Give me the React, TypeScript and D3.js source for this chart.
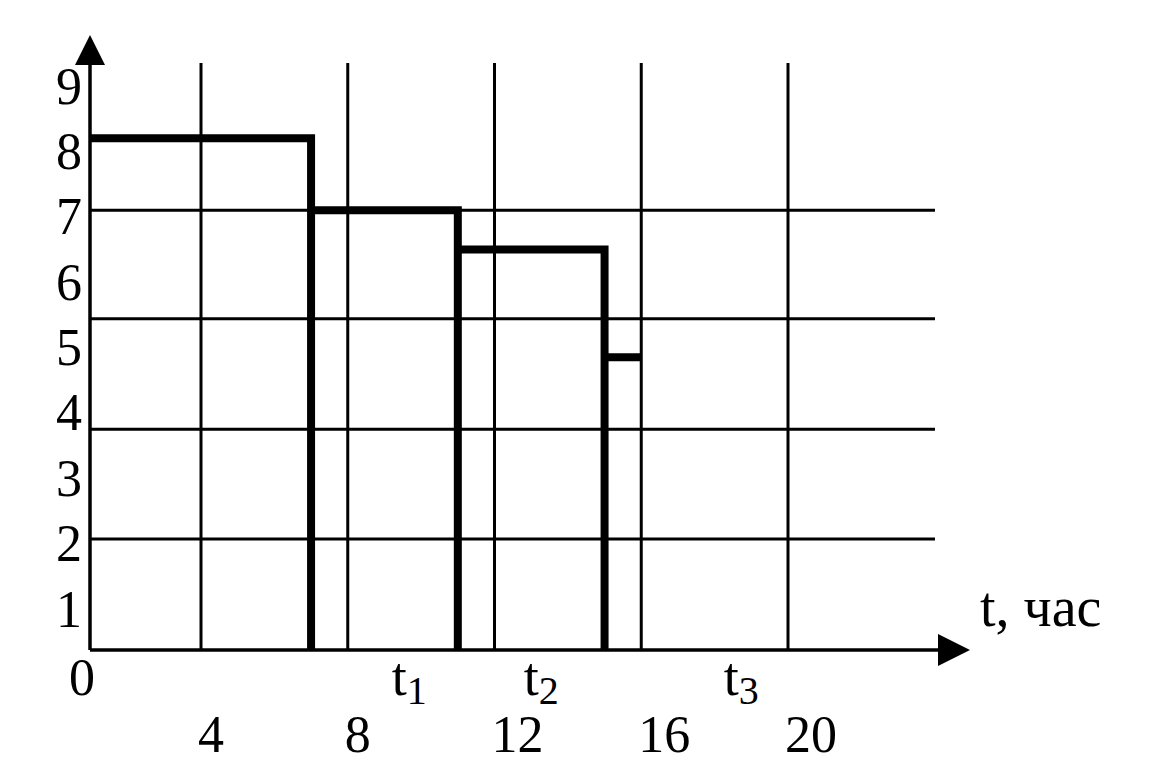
import React from "react";
import * as d3 from "d3";

// ---- data ----
const xTicks = [4, 8, 12, 16, 20];
const yTicks = [1, 2, 3, 4, 5, 6, 7, 8, 9];
const gridXValues = [4, 8, 12, 16, 20];
const gridYValues = [2.07, 3.75, 5.44, 7.1];
const stepStart = [0, 7, 11, 15];
const stepEnd = [7, 11, 15, 16];
const stepLevel = [8.2, 7.1, 6.5, 4.85];
const stepDrop = [true, true, true, false];
const intervalSubs = ["1", "2", "3"];
const intervalAt = [9.2, 12.8, 18.25];
const xAxisTitle = "t, час";
const originLabel = "0";

const W = 1154;
const H = 764;
const FONT = "'Liberation Serif', 'Times New Roman', serif";

export default function App() {
  const x = d3.scaleLinear().domain([0, 4, 20]).range([90, 201, 788]);
  const y = d3.scaleLinear().domain([0, 1, 9]).range([650, 609, 86]);

  const gridTop = 63;
  const gridRight = 935;
  const xArrowTip = 970;
  const yArrowTip = 35;

  const stepPath = d3.path();
  stepStart.forEach((s, i) => {
    stepPath.moveTo(x(s), y(stepLevel[i]));
    stepPath.lineTo(x(stepEnd[i]), y(stepLevel[i]));
    if (stepDrop[i]) stepPath.lineTo(x(stepEnd[i]), y(0));
  });

  const fs = 52;
  return (
    <svg
      width={W}
      height={H}
      style={{ position: "absolute", left: 0, top: 0, background: "#fff" }}
      fontFamily={FONT}
    >
      <rect width={W} height={H} fill="#fff" />
      {/* grid */}
      {gridXValues.map((v) => (
        <line key={"gx" + v} x1={x(v)} x2={x(v)} y1={gridTop} y2={y(0)} stroke="#000" strokeWidth={3} />
      ))}
      {gridYValues.map((v) => (
        <line key={"gy" + v} x1={x(0)} x2={gridRight} y1={y(v)} y2={y(v)} stroke="#000" strokeWidth={3} />
      ))}
      {/* axes */}
      <line x1={x(0)} x2={xArrowTip - 30} y1={y(0)} y2={y(0)} stroke="#000" strokeWidth={3.5} />
      <line x1={x(0)} x2={x(0)} y1={y(0)} y2={yArrowTip + 28} stroke="#000" strokeWidth={3.5} />
      <path
        d={`M${xArrowTip},${y(0)} L${xArrowTip - 32},${y(0) - 16} L${xArrowTip - 32},${y(0) + 16} Z`}
        fill="#000"
      />
      <path
        d={`M${x(0)},${yArrowTip} L${x(0) - 15},${yArrowTip + 30} L${x(0) + 15},${yArrowTip + 30} Z`}
        fill="#000"
      />
      {/* steps */}
      <path d={stepPath.toString()} fill="none" stroke="#000" strokeWidth={8} strokeLinejoin="miter" />
      {/* y labels */}
      {yTicks.map((v) => (
        <text key={"yl" + v} x={69} y={y(v) + fs * 0.338} fontSize={fs} textAnchor="middle">
          {v}
        </text>
      ))}
      <text x={x(0) - 8} y={695} fontSize={fs} textAnchor="middle">
        {originLabel}
      </text>
      {/* x labels */}
      {xTicks.map((v) => (
        <text key={"xl" + v} x={x(v) - 3} y={752} fontSize={fs} textAnchor="start">
          {v}
        </text>
      ))}
      {/* interval labels */}
      {intervalSubs.map((s, i) => (
        <text key={"t" + s} x={x(intervalAt[i])} y={695} fontSize={54}>
          t
          <tspan fontSize={40} dy={9}>
            {s}
          </tspan>
        </text>
      ))}
      <text x={980} y={626} fontSize={56}>
        {xAxisTitle}
      </text>
    </svg>
  );
}
